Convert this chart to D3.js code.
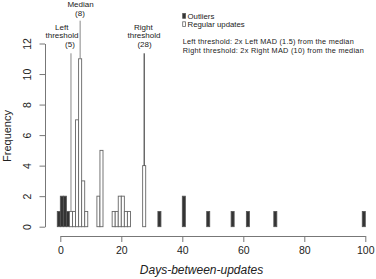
<!DOCTYPE html>
<html>
<head>
<meta charset="utf-8">
<script src="https://cdn.jsdelivr.net/npm/d3@7"></script>
<style>
  body { margin: 0; background: #fff; }
  svg { display: block; font-family: "Liberation Sans", Arial, Helvetica, sans-serif; }
</style>
</head>
<body>
<div id="chart"></div>
<script>
// histogram bins: bin k covers (k-1, k]
const outlierBins = [0, 1, 2, 3, 33, 41, 49, 57, 62, 71, 100];
const outlierCounts = [1, 2, 2, 1, 1, 2, 1, 1, 1, 1, 1];
const regularBins = [4, 5, 6, 7, 8, 9, 13, 14, 18, 19, 20, 21, 22, 23, 28];
const regularCounts = [1, 1, 7, 11, 3, 1, 2, 5, 1, 1, 2, 2, 1, 1, 4];

const xTicks = [0, 20, 40, 60, 80, 100];
const yTicks = [0, 2, 4, 6, 8, 10, 12];

// annotation lines (bin where each line is drawn) and their labels
const markBins = [4, 7, 28];
const markLabels = [["Left", "threshold", "(5)"], ["Median", "(8)"], ["Right", "threshold", "(28)"]];

const legendItems = ["Outliers", "Regular updates"];
const notes = ["Left threshold: 2x Left MAD (1.5) from the median",
               "Right threshold: 2x Right MAD (10) from the median"];

let width = 376, height = 279;

let svg = d3.select("#chart").append("svg")
    .attr("width", width)
    .attr("height", height);

let x = d3.scaleLinear().domain([0, 100]).range([60.3, 365.3]);
let y = d3.scaleLinear().domain([0, 12]).range([226.7, 43.5]);

let outliers = outlierBins.map((b, i) => ({bin: b, count: outlierCounts[i]}));
let regular = regularBins.map((b, i) => ({bin: b, count: regularCounts[i]}));

// bars
svg.append("g").selectAll("rect")
    .data(outliers)
    .enter().append("rect")
    .attr("x", d => x(d.bin - 1))
    .attr("width", d => x(d.bin) - x(d.bin - 1))
    .attr("y", d => y(d.count))
    .attr("height", d => y(0) - y(d.count))
    .attr("fill", "#333")
    .attr("stroke", "#555")
    .attr("stroke-width", 0.8);

svg.append("g").selectAll("rect")
    .data(regular)
    .enter().append("rect")
    .attr("x", d => x(d.bin - 1))
    .attr("width", d => x(d.bin) - x(d.bin - 1))
    .attr("y", d => y(d.count))
    .attr("height", d => y(0) - y(d.count))
    .attr("fill", "#fff")
    .attr("stroke", "#666")
    .attr("stroke-width", 0.9);

// x axis
let xAxis = svg.append("g")
    .attr("transform", "translate(0,236)")
    .call(d3.axisBottom(x).tickValues(xTicks).tickSize(6).tickSizeOuter(0).tickPadding(4.5));
xAxis.select(".domain").attr("stroke", "#777");
xAxis.selectAll(".tick line").attr("stroke", "#777");
xAxis.selectAll("text").attr("fill", "#222").style("font-size", "10.5px")
    .style("font-family", "Liberation Sans, Arial, sans-serif");

// y axis
let yAxis = svg.append("g")
    .attr("transform", "translate(45,0)")
    .call(d3.axisLeft(y).tickValues(yTicks).tickSize(5.5).tickSizeOuter(0));
yAxis.select(".domain").attr("stroke", "#777");
yAxis.selectAll(".tick line").attr("stroke", "#777");
yAxis.selectAll("text")
    .attr("transform", "rotate(-90)")
    .attr("x", 0)
    .attr("y", -14)
    .attr("dy", 0)
    .attr("text-anchor", "middle")
    .attr("fill", "#222")
    .style("font-size", "10.5px")
    .style("font-family", "Liberation Sans, Arial, sans-serif");

// axis titles
svg.append("text")
    .attr("transform", "translate(11,136) rotate(-90)")
    .attr("text-anchor", "middle")
    .style("font-size", "11px")
    .attr("fill", "#222")
    .text("Frequency");

svg.append("text")
    .attr("x", 201.5)
    .attr("y", 274)
    .attr("text-anchor", "middle")
    .style("font-size", "12px")
    .style("font-style", "italic")
    .attr("fill", "#222")
    .text("Days-between-updates");

// threshold / median lines with labels
let countOf = b => {
    let r = regular.find(d => d.bin === b) || outliers.find(d => d.bin === b);
    return r ? r.count : 0;
};
let lineTops = [53.3, 20.7, 53.3];
let lineColors = ["#888", "#888", "#222"];
markBins.forEach((b, i) => {
    let cx = x(b - 0.5);
    svg.append("line")
        .attr("x1", cx).attr("x2", cx)
        .attr("y1", lineTops[i])
        .attr("y2", y(countOf(b)))
        .attr("stroke", lineColors[i])
        .attr("stroke-width", 1);
});

// label positions (text lines set by hand)
let labelSpecs = [
    {x: [61.7, 62, 70], y: [29.5, 38, 46.5]},
    {x: [80.5, 80], y: [6.5, 15.5]},
    {x: [143.3, 144, 144.5], y: [29.5, 38, 46.5]}
];
markLabels.forEach((lines, i) => {
    lines.forEach((t, j) => {
        svg.append("text")
            .attr("x", labelSpecs[i].x[j])
            .attr("y", labelSpecs[i].y[j])
            .attr("text-anchor", "middle")
            .style("font-size", "8px")
            .attr("fill", "#222")
            .text(t);
    });
});

// legend
let legend = svg.append("g");
legendItems.forEach((t, i) => {
    legend.append("rect")
        .attr("x", 182.7)
        .attr("y", 13.5 + i * 8.3)
        .attr("width", 2.8)
        .attr("height", 4.8)
        .attr("fill", i === 0 ? "#333" : "#fff")
        .attr("stroke", i === 0 ? "#555" : "#666")
        .attr("stroke-width", 0.8);
    legend.append("text")
        .attr("x", 187.5)
        .attr("y", 19 + i * 8.3)
        .style("font-size", "7.8px")
        .attr("fill", "#222")
        .text(t);
});
notes.forEach((t, i) => {
    legend.append("text")
        .attr("x", 182.7)
        .attr("y", 44.3 + i * 8.4)
        .style("font-size", "7.3px")
        .attr("textLength", i === 0 ? 171 : 181)
        .attr("lengthAdjust", "spacing")
        .attr("fill", "#222")
        .text(t);
});
</script>
</body>
</html>
